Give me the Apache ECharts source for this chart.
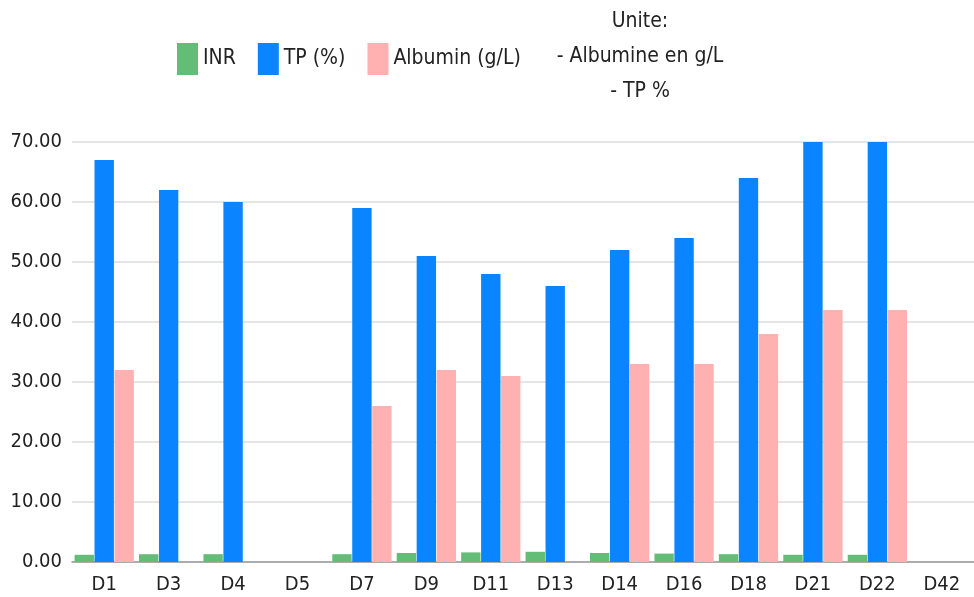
<!DOCTYPE html>
<html>
<head>
<meta charset="utf-8">
<script src="https://cdn.jsdelivr.net/npm/echarts@6/dist/echarts.min.js"></script>
<style>
  html, body { margin: 0; padding: 0; background: #fff; }
  #chart { width: 974px; height: 597px; }
</style>
</head>
<body>
<div id="chart"></div>
<script>
// catégories (jours)
const days = ['D1', 'D3', 'D4', 'D5', 'D7', 'D9', 'D11', 'D13', 'D14', 'D16', 'D18', 'D21', 'D22', 'D42']
// séries
const inr = [1.2, 1.3, 1.3, null, 1.3, 1.5, 1.6, 1.7, 1.5, 1.4, 1.3, 1.2, 1.2, null]
const tp = [67, 62, 60, null, 59, 51, 48, 46, 52, 54, 64, 70, 70, null]
const albumin = [32, null, null, null, 26, 32, 31, null, 33, 33, 38, 42, 42, null]
const unitLines = ['Unite:', '- Albumine en g/L', '- TP %']

const font = '"DejaVu Sans Condensed", "Liberation Sans Narrow", sans-serif'
const chart = echarts.init(document.getElementById('chart'))

chart.setOption({
  animation: false,
  textStyle: { fontFamily: font },
  grid: { left: 72, right: 0, top: 142, bottom: 35 },
  legend: {
    left: 172,
    top: 38,
    icon: 'rect',
    itemWidth: 21,
    itemHeight: 32,
    itemGap: 22,
    textStyle: { fontSize: 21, color: '#222', fontFamily: font },
    data: ['INR', 'TP (%)', 'Albumin (g/L)']
  },
  graphic: [
    {
      type: 'text',
      x: 640,
      y: 4,
      style: {
        text: unitLines.join('\n'),
        textAlign: 'center',
        fontSize: 21,
        lineHeight: 35,
        fill: '#222',
        fontFamily: font
      }
    }
  ],
  xAxis: {
    type: 'category',
    data: days,
    axisTick: { show: false },
    axisLine: { lineStyle: { color: '#999', width: 1.5 } },
    axisLabel: { fontSize: 20, color: '#222', margin: 13, fontFamily: font }
  },
  yAxis: {
    type: 'value',
    min: 0,
    max: 70,
    interval: 10,
    axisLabel: {
      fontSize: 20,
      color: '#222',
      margin: 10,
      fontFamily: font,
      formatter: v => v.toFixed(2)
    },
    splitLine: { lineStyle: { color: '#ddd', width: 1.5 } }
  },
  series: [
    {
      name: 'INR',
      type: 'bar',
      data: inr,
      barGap: '3%',
      barCategoryGap: '8%',
      itemStyle: { color: '#63bd77' }
    },
    {
      name: 'TP (%)',
      type: 'bar',
      data: tp,
      itemStyle: { color: '#0a84ff' }
    },
    {
      name: 'Albumin (g/L)',
      type: 'bar',
      data: albumin,
      itemStyle: { color: '#ffb1b1' }
    }
  ]
})
</script>
</body>
</html>
